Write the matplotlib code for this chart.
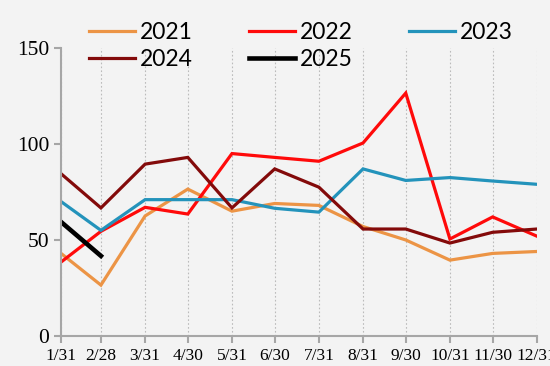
import matplotlib
matplotlib.use("Agg")
import matplotlib.pyplot as plt
from datetime import datetime

tick_labels = ["1/31", "2/28", "3/31", "4/30", "5/31", "6/30", "7/31", "8/31", "9/30", "10/31", "11/30", "12/31"]
dates = [datetime(2021, int(t.split("/")[0]), int(t.split("/")[1])) for t in tick_labels]

s2021 = [43, 26.5, 62.5, 76.5, 65, 69, 68, 57, 50, 39.5, 43, 44]
s2022 = [38.5, 54.5, 67, 63.5, 95, 93, 91, 100.5, 126.5, 50.5, 62, 52]
s2023 = [70, 55, 71, 71, 71, 66.5, 64.5, 87, 81, 82.5, 80.7, 79]
s2024 = [84.5, 66.7, 89.5, 93, 66.7, 87, 77.5, 55.7, 55.7, 48.4, 54, 55.7]
s2025 = [59.4, 41.7]

series = [("2021", s2021, "#EC9445", 2.3), ("2022", s2022, "#FF0A0A", 2.3),
          ("2023", s2023, "#2393BB", 2.3), ("2024", s2024, "#830A0A", 2.3),
          ("2025", s2025, "#000000", 3.3)]

bg = "#F3F3F3"
fig = plt.figure(figsize=(5.5, 3.66), dpi=100, facecolor=bg)
ax = fig.add_axes([0.111, 0.082, 0.865, 0.787], facecolor=bg)

handles = {}
for name, vals, col, lw in series:
    h, = ax.plot(dates[:len(vals)], vals, color=col, lw=lw, label=name, solid_joinstyle="miter")
    handles[name] = h

ax.set_xlim(dates[0], dates[-1])
ax.set_ylim(0, 150)
ax.set_yticks([0, 50, 100, 150])
ax.set_xticks(dates)
ax.set_xticklabels(tick_labels)
ax.grid(axis="x", color="#BBBBBB", linestyle=(0, (1.5, 2)), lw=0.8)
for s in ["top", "right"]:
    ax.spines[s].set_visible(False)
for s in ["left", "bottom"]:
    ax.spines[s].set_color("#A6A6A6")
    ax.spines[s].set_linewidth(1.5)
ax.tick_params(colors="#A6A6A6", width=1.5, length=5, labelcolor="black")
for lab in ax.get_xticklabels():
    lab.set_fontfamily("Liberation Serif")
    lab.set_fontsize(12.5)
for lab in ax.get_yticklabels():
    lab.set_fontfamily("Liberation Serif")
    lab.set_fontsize(15.5)

order = ["2021", "2024", "2022", "2025", "2023"]
fig.legend([handles[k] for k in order], order, loc="upper left",
           bbox_to_anchor=(89 / 550, 0.94), ncol=3, frameon=False,
           prop={"family": "Lato", "size": 16.5}, handlelength=2.0,
           columnspacing=2.45, handletextpad=0.22, labelspacing=0.27,
           borderpad=0, borderaxespad=0)
fig.savefig("out.png", dpi=100, facecolor=bg)
